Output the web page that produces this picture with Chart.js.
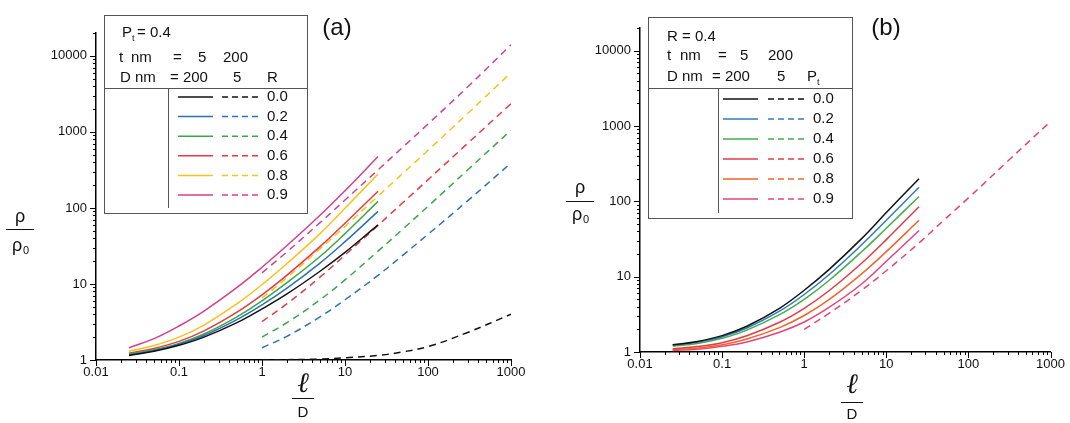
<!DOCTYPE html>
<html>
<head>
<meta charset="utf-8">
<script src="https://cdn.jsdelivr.net/npm/chart.js@4.4.0/dist/chart.umd.min.js"></script>
<style>
  html, body { margin: 0; padding: 0; background: #fff; }
  #wrap { position: relative; width: 1070px; height: 423px; overflow: hidden; }
  canvas { position: absolute; top: 0; }
  #chartA { left: 0; }
  #chartB { left: 535px; }
</style>
</head>
<body>
<div id="wrap">
  <canvas id="chartA" width="535" height="423"></canvas>
  <canvas id="chartB" width="535" height="423"></canvas>
</div>
<script>
// l/D sample points
const xSolid = [0.025, 0.05, 0.1, 0.2, 0.5, 1, 2, 5, 10, 25];
const xDashed = [1, 2, 5, 10, 25, 50, 100, 300, 1000];
const seriesLabels = ['0.0', '0.2', '0.4', '0.6', '0.8', '0.9'];
const xTickLabels = ['0.01', '0.1', '1', '10', '100', '1000'];
const yTickLabels = ['1', '10', '100', '1000', '10000'];

// panel (a): Pt = 0.4, R varies
const aSolid0 = [1.15, 1.3, 1.56, 2.0, 3.1, 4.7, 7.4, 14.7, 26, 60];
const aSolid2 = [1.17, 1.32, 1.61, 2.1, 3.4, 5.3, 8.8, 18.8, 36, 90];
const aSolid4 = [1.2, 1.36, 1.65, 2.2, 3.7, 6.0, 10.4, 23, 46, 122];
const aSolid6 = [1.23, 1.42, 1.76, 2.42, 4.27, 7.2, 13.1, 31, 63, 166];
const aSolid8 = [1.3, 1.55, 2.0, 2.88, 5.5, 9.8, 18.6, 46, 99, 280];
const aSolid9 = [1.45, 1.91, 2.8, 4.4, 9.0, 16.6, 32, 80, 168, 474];

const aDash0 = [1.0, 1.01, 1.03, 1.07, 1.15, 1.28, 1.5, 2.3, 4.0];
const aDash2 = [1.45, 2.05, 3.7, 6.2, 13, 24, 45, 124, 390];
const aDash4 = [2.0, 3.1, 6.2, 11.3, 27, 53, 105, 316, 1050];
const aDash6 = [3.2, 5.5, 12.3, 24, 59, 118, 235, 706, 2350];
const aDash8 = [6.5, 12.1, 29, 57, 143, 286, 571, 1750, 6000];
const aDash9 = [14, 26.5, 64, 127, 317, 634, 1270, 3900, 14000];

// panel (b): R = 0.4, Pt varies
const bSolid0 = [1.25, 1.38, 1.65, 2.2, 3.8, 6.6, 12.4, 32, 71, 200];
const bSolid2 = [1.23, 1.35, 1.59, 2.08, 3.48, 5.8, 10.6, 26.5, 56, 154];
const bSolid4 = [1.2, 1.3, 1.52, 1.95, 3.13, 5.0, 8.9, 21.4, 44, 116];
const bSolid6 = [1.1, 1.18, 1.33, 1.64, 2.48, 3.8, 6.5, 15.1, 31, 85];
const bSolid8 = [1.07, 1.13, 1.25, 1.49, 2.11, 3.05, 4.95, 10.9, 21.5, 56];
const bSolid9 = [1.05, 1.09, 1.19, 1.36, 1.83, 2.5, 3.9, 8.0, 16, 41];

const bDash9 = [2.0, 3.25, 6.6, 12, 28, 56, 111, 340, 1150];

const colorsA = ['#111111', '#2e6fb7', '#3aa846', '#e63a45', '#f6c31b', '#d2408d'];
const colorsB = ['#111111', '#2f7bbf', '#44ad4c', '#e53b44', '#f0652a', '#e3457a'];

const isDecade = v => Math.abs(Math.log10(v) - Math.round(Math.log10(v))) < 1e-9;

function decadeTicks(min, max) {
    const out = [];
    for (let e = Math.floor(Math.log10(min)); e <= Math.ceil(Math.log10(max)); e++) {
        for (let m = 1; m <= 9; m++) {
            const v = parseFloat((m * Math.pow(10, e)).toPrecision(6));
            if (v >= min * 0.999 && v <= max * 1.001) out.push({ value: v });
        }
    }
    return out;
}

function makeSet(xs, ys, color, dashed) {
    return {
        data: xs.map((x, i) => ({ x: x, y: ys[i] })),
        borderColor: color,
        borderWidth: 1.5,
        borderDash: dashed ? [7, 5] : [],
        pointRadius: 0,
        fill: false,
        tension: 0.4,
    };
}

// minor / major tick marks drawn outward
const tickMarks = {
    id: 'tickMarks',
    afterDraw(chart) {
        const ctx = chart.ctx;
        const xs = chart.scales.x;
        const ys = chart.scales.y;
        ctx.save();
        ctx.strokeStyle = '#000';
        ctx.lineWidth = 1;
        ctx.beginPath();
        xs.ticks.forEach(t => {
            const px = Math.round(xs.getPixelForValue(t.value)) + 0.5;
            const len = isDecade(t.value) ? 6 : 3;
            ctx.moveTo(px, xs.top);
            ctx.lineTo(px, xs.top + len);
        });
        ys.ticks.forEach(t => {
            const py = Math.round(ys.getPixelForValue(t.value)) + 0.5;
            const len = isDecade(t.value) ? 6 : 3;
            ctx.moveTo(ys.right, py);
            ctx.lineTo(ys.right - len, py);
        });
        ctx.stroke();
        ctx.restore();
    },
};

// axis titles, panel letter and the boxed legend
const annotations = {
    id: 'annotations',
    afterDraw(chart) {
        const o = chart.options.plugins.annotations;
        const ctx = chart.ctx;
        ctx.save();
        ctx.fillStyle = '#111';
        ctx.strokeStyle = '#111';
        ctx.textBaseline = 'middle';

        ctx.font = '24px "Liberation Sans", Arial';
        ctx.textAlign = 'center';
        ctx.fillText(o.letter, o.letterX, 28);

        // y title: rho / rho0
        ctx.font = '18px "Liberation Sans", Arial';
        ctx.fillText('\u03c1', o.yTitleX, o.yTitle[0]);
        ctx.lineWidth = 1;
        ctx.beginPath();
        ctx.moveTo(o.yTitleX - 14, o.yTitle[1] + 0.5);
        ctx.lineTo(o.yTitleX + 14, o.yTitle[1] + 0.5);
        ctx.stroke();
        ctx.fillText('\u03c1', o.yTitleX - 3, o.yTitle[2]);
        ctx.font = '11px "Liberation Sans", Arial';
        ctx.fillText('0', o.yTitleX + 6, o.yTitle[2] + 5);

        // x title: l / D
        ctx.font = 'italic 28px "DejaVu Serif", serif';
        ctx.fillText('\u2113', o.xTitleX, o.xTitle[0]);
        ctx.beginPath();
        ctx.moveTo(o.xTitleX - 11, o.xTitle[1] + 0.5);
        ctx.lineTo(o.xTitleX + 11, o.xTitle[1] + 0.5);
        ctx.stroke();
        ctx.font = '15px "Liberation Sans", Arial';
        ctx.fillText('D', o.xTitleX, o.xTitle[2]);

        // legend box
        const b = o.box;
        ctx.fillStyle = '#fff';
        ctx.fillRect(b.left, b.top, b.right - b.left, b.bottom - b.top);
        ctx.strokeStyle = '#555';
        ctx.lineWidth = 1;
        ctx.strokeRect(b.left + 0.5, b.top + 0.5, b.right - b.left, b.bottom - b.top);
        ctx.beginPath();
        ctx.moveTo(b.left, b.divider + 0.5);
        ctx.lineTo(b.right, b.divider + 0.5);
        ctx.moveTo(b.vline + 0.5, b.divider);
        ctx.lineTo(b.vline + 0.5, b.bottom - 5);
        ctx.stroke();

        ctx.fillStyle = '#111';
        ctx.textAlign = 'left';
        ctx.font = '15px "Liberation Sans", Arial';
        o.header.forEach(h => {
            if (h.sub) {
                ctx.fillText(h.text, h.x, h.y);
                const w = ctx.measureText(h.text).width;
                ctx.font = '9px "Liberation Sans", Arial';
                ctx.fillText(h.sub, h.x + w, h.y + 6);
                ctx.font = '15px "Liberation Sans", Arial';
                if (h.after) ctx.fillText(h.after, h.x + w + 5, h.y);
            } else {
                ctx.fillText(h.text, h.x, h.y);
            }
        });

        o.colors.forEach((c, i) => {
            const y = b.rowTop + i * b.rowGap;
            ctx.strokeStyle = c;
            ctx.lineWidth = 1.5;
            ctx.setLineDash([]);
            ctx.beginPath();
            ctx.moveTo(b.solid[0], y);
            ctx.lineTo(b.solid[1], y);
            ctx.stroke();
            ctx.setLineDash([6, 4]);
            ctx.beginPath();
            ctx.moveTo(b.dash[0], y);
            ctx.lineTo(b.dash[1], y);
            ctx.stroke();
            ctx.setLineDash([]);
            ctx.fillText(seriesLabels[i], b.labelX, y);
        });
        ctx.restore();
    },
};

function axes(yMax, yWidth, xHeight) {
    const tickFont = { family: '"Liberation Sans", Arial', size: 13 };
    return {
        x: {
            type: 'logarithmic',
            min: 0.01,
            max: 1000,
            afterBuildTicks: s => { s.ticks = decadeTicks(0.01, 1000); },
            afterFit: s => { s.height = xHeight; },
            grid: { display: true, drawOnChartArea: false, drawTicks: false },
            border: { display: true, color: '#000', width: 1.5 },
            ticks: {
                autoSkip: false,
                maxRotation: 0,
                padding: 5,
                color: '#111',
                font: tickFont,
                callback: v => (isDecade(v) ? xTickLabels[Math.round(Math.log10(v)) + 2] : ''),
            },
        },
        y: {
            type: 'logarithmic',
            min: 1,
            max: yMax,
            afterBuildTicks: s => { s.ticks = decadeTicks(1, yMax); },
            afterFit: s => { s.width = yWidth; },
            grid: { display: true, drawOnChartArea: false, drawTicks: false },
            border: { display: true, color: '#000', width: 1.5 },
            ticks: {
                autoSkip: false,
                padding: 9,
                color: '#111',
                font: tickFont,
                callback: v => (isDecade(v) ? yTickLabels[Math.round(Math.log10(v))] : ''),
            },
        },
    };
}

const solidA = [aSolid0, aSolid2, aSolid4, aSolid6, aSolid8, aSolid9];
const dashA = [aDash0, aDash2, aDash4, aDash6, aDash8, aDash9];
const solidB = [bSolid0, bSolid2, bSolid4, bSolid6, bSolid8, bSolid9];

const setsA = [];
solidA.forEach((ys, i) => setsA.push(makeSet(xSolid, ys, colorsA[i], false)));
dashA.forEach((ys, i) => setsA.push(makeSet(xDashed, ys, colorsA[i], true)));

const setsB = [];
solidB.forEach((ys, i) => setsB.push(makeSet(xSolid, ys, colorsB[i], false)));
setsB.push(makeSet(xDashed, bDash9, colorsB[5], true));

new Chart(document.getElementById('chartA'), {
    type: 'line',
    data: { datasets: setsA },
    plugins: [tickMarks, annotations],
    options: {
        responsive: false,
        animation: false,
        layout: { padding: { left: 46, right: 24, top: 33, bottom: 33 } },
        scales: axes(20000, 50, 30),
        plugins: {
            legend: { display: false },
            tooltip: { enabled: false },
            annotations: {
                letter: '(a)',
                letterX: 337,
                yTitleX: 20,
                yTitle: [217, 229, 246],
                xTitleX: 303,
                xTitle: [385, 398, 413],
                colors: colorsA,
                box: {
                    left: 104, right: 307, top: 15, bottom: 213,
                    divider: 88, vline: 168,
                    rowTop: 97, rowGap: 19.6,
                    solid: [178, 213], dash: [222, 258], labelX: 267,
                },
                header: [
                    { text: 'P', sub: 't', after: '= 0.4', x: 122, y: 33 },
                    { text: 't', x: 119, y: 58 },
                    { text: 'nm', x: 131, y: 58 },
                    { text: '=', x: 173, y: 58 },
                    { text: '5', x: 198, y: 58 },
                    { text: '200', x: 223, y: 58 },
                    { text: 'D nm', x: 120, y: 78 },
                    { text: '= 200', x: 170, y: 78 },
                    { text: '5', x: 233, y: 78 },
                    { text: 'R', x: 267, y: 78 },
                ],
            },
        },
    },
});

new Chart(document.getElementById('chartB'), {
    type: 'line',
    data: { datasets: setsB },
    plugins: [tickMarks, annotations],
    options: {
        responsive: false,
        animation: false,
        layout: { padding: { left: 55, right: 15, top: 28, bottom: 41 } },
        scales: axes(20000, 50, 30),
        plugins: {
            legend: { display: false },
            tooltip: { enabled: false },
            annotations: {
                letter: '(b)',
                letterX: 351,
                yTitleX: 45,
                yTitle: [188, 201, 215],
                xTitleX: 317,
                xTitle: [386, 402, 415],
                colors: colorsB,
                box: {
                    left: 113, right: 317, top: 17, bottom: 218,
                    divider: 88, vline: 183,
                    rowTop: 99, rowGap: 20,
                    solid: [188, 223], dash: [233, 270], labelX: 278,
                },
                header: [
                    { text: 'R = 0.4', x: 132, y: 37 },
                    { text: 't', x: 132, y: 56 },
                    { text: 'nm', x: 145, y: 56 },
                    { text: '=', x: 183, y: 56 },
                    { text: '5', x: 205, y: 56 },
                    { text: '200', x: 233, y: 56 },
                    { text: 'D nm', x: 132, y: 77 },
                    { text: '= 200', x: 177, y: 77 },
                    { text: '5', x: 242, y: 77 },
                    { text: 'P', sub: 't', x: 272, y: 77 },
                ],
            },
        },
    },
});
</script>
</body>
</html>
